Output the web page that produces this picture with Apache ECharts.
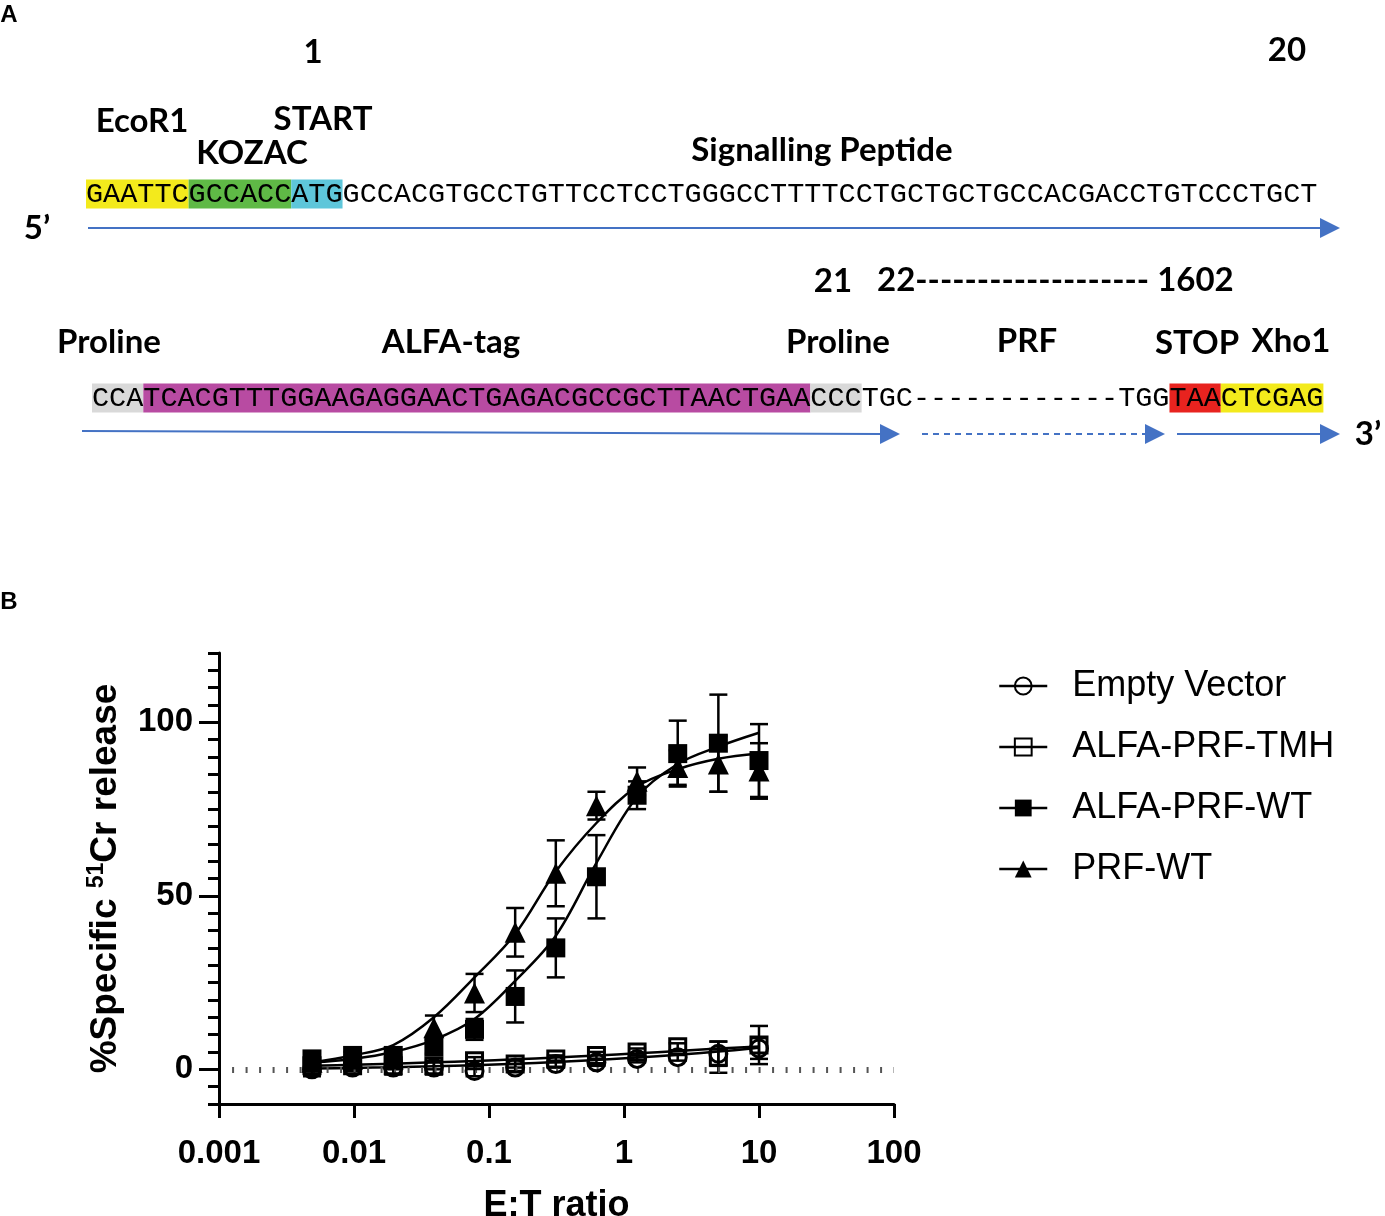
<!DOCTYPE html>
<html lang="en">
<head>
<meta charset="UTF-8" />
<title>ALFA-PRF construct and 51Cr release</title>
<script src="https://cdn.jsdelivr.net/npm/echarts@6/dist/echarts.min.js"></script>
<style>
  html, body { margin: 0; padding: 0; background: #fff; }
  #chart { width: 1385px; height: 1216px; }
</style>
</head>
<body>
<div id="chart"></div>
<script>
  // E:T ratios, 2-fold dilutions down from 10:1
  const ratios = [0.0048828, 0.0097656, 0.0195313, 0.0390625, 0.078125, 0.15625, 0.3125, 0.625, 1.25, 2.5, 5, 10];

  const seriesNames = ['Empty Vector', 'ALFA-PRF-TMH', 'ALFA-PRF-WT', 'PRF-WT'];

  // mean % specific release, SD, and the fitted curve
  const emptyMean = [0, 0.5, 0.5, 0.5, -0.5, 0.5, 1.5, 2, 3, 3.5, 4.5, 6];
  const emptySd   = [2, 1, 2, 2, 1.5, 1, 1, 1, 1, 1, 3.5, 3];
  const emptyFit  = [0.2, 0.4, 0.6, 0.9, 1.2, 1.6, 2.1, 2.7, 3.4, 4.2, 5.1, 6.2];

  const tmhMean = [1, 1, 1, 1, 2.5, 1.5, 3, 4, 5, 6.5, 3.5, 7];
  const tmhSd   = [1, 1, 1, 1, 1, 1, 1, 1, 1, 1, 4.5, 5.5];
  const tmhFit  = [1, 1.3, 1.6, 2, 2.4, 2.9, 3.4, 4, 4.6, 5.3, 6, 6.6];

  const alfaWtMean = [3, 4, 4, 6.5, 11.5, 21, 35, 55.5, 79, 91, 94, 89];
  const alfaWtSd   = [1.5, 1, 1.5, 2, 3, 7.5, 8.5, 12, 4, 9.5, 14, 10.5];
  const alfaWtFit  = [2, 3, 5, 8.5, 14.5, 25.5, 38.5, 59.5, 78.5, 88, 93, 97];

  const prfWtMean = [2, 3, 3, 12, 22, 39.5, 56.5, 76, 83, 87, 88, 86];
  const prfWtSd   = [1, 1, 1, 3.5, 5.5, 7, 9.5, 4, 4, 5, 8, 8];
  const prfWtFit  = [2, 4, 7, 15, 26.5, 39, 57, 71, 81.5, 86.5, 89.5, 91];

  const yMajorTicks = [0, 50, 100];

  // construct map text
  const seq1 = ['GAATTC', 'GCCACC', 'ATG', 'GCCACGTGCCTGTTCCTCCTGGGCCTTTTCCTGCTGCTGCCACGACCTGTCCCTGCT'];
  const seq2 = ['CCA', 'TCACGTTTGGAAGAGGAACTGAGACGCCGCTTAACTGAA', 'CCC', 'TGC------------TGG', 'TAA', 'CTCGAG'];

  const chart = echarts.init(document.getElementById('chart'));

  const blue = '#4472c4';
  const labelFont = 'Lato';
  const seqStyle = { fontFamily: 'Liberation Mono', fontSize: 28.5, lineHeight: 35, color: '#1a1a1a' };
  const seqRich = {
    y: Object.assign({ backgroundColor: '#f3ea1c' }, seqStyle),
    g: Object.assign({ backgroundColor: '#5fb946' }, seqStyle),
    c: Object.assign({ backgroundColor: '#5ec6da' }, seqStyle),
    gr: Object.assign({ backgroundColor: '#d9d9d9' }, seqStyle),
    m: Object.assign({ backgroundColor: '#b84ba2' }, seqStyle),
    r: Object.assign({ backgroundColor: '#e8231f' }, seqStyle),
    p: Object.assign({}, seqStyle)
  };

  function label(text, x, y, opts) {
    opts = opts || {};
    return {
      type: 'text', x: x, y: y, scaleX: opts.sx || 1,
      style: {
        text: text, font: 'bold ' + (opts.size || 33) + 'px ' + (opts.family || labelFont),
        fill: '#000', align: opts.align || 'center', verticalAlign: 'middle',
        textAlign: opts.align || 'center', textVerticalAlign: 'middle'
      }
    };
  }

  function arrow(x1, y1, x2, y2, dashed) {
    return [
      { type: 'line', shape: { x1: x1, y1: y1, x2: x2, y2: y2 },
        style: { stroke: blue, lineWidth: 2, lineDash: dashed ? [6, 5] : null } },
      { type: 'polygon', shape: { points: [[x2, y2 - 10], [x2 + 20, y2], [x2, y2 + 10]] },
        style: { fill: blue } }
    ];
  }

  const graphics = [
    label('A', 9, 15, { family: 'Liberation Sans', size: 24 }),
    label('1', 313, 52),
    label('20', 1287, 50),
    label('EcoR1', 142, 121),
    label('START', 323, 119),
    label('KOZAC', 252, 153),
    label('Signalling Peptide', 822, 150),
    {
      type: 'text', x: 86, y: 194,
      style: {
        text: '{y|' + seq1[0] + '}{g|' + seq1[1] + '}{c|' + seq1[2] + '}{p|' + seq1[3] + '}',
        rich: seqRich, align: 'left', verticalAlign: 'middle', textAlign: 'left', textVerticalAlign: 'middle'
      }
    },
    label('5\u2019', 37, 228),
    ...arrow(88, 228, 1320, 228),

    label('21', 833, 281),
    label('22------------------- 1602', 877, 280, { align: 'left' }),
    label('Proline', 109, 342),
    label('ALFA-tag', 451, 342),
    label('Proline', 838, 342),
    label('PRF', 1027, 341),
    label('STOP', 1197, 343),
    label('Xho1', 1291, 341),
    {
      type: 'text', x: 92, y: 398,
      style: {
        text: '{gr|' + seq2[0] + '}{m|' + seq2[1] + '}{gr|' + seq2[2] + '}{p|' + seq2[3] + '}{r|' + seq2[4] + '}{y|' + seq2[5] + '}',
        rich: seqRich, align: 'left', verticalAlign: 'middle', textAlign: 'left', textVerticalAlign: 'middle'
      }
    },
    ...arrow(82, 431, 880, 434),
    ...arrow(922, 434, 1145, 434, true),
    ...arrow(1177, 434, 1320, 434),
    label('3\u2019', 1368, 434),

    label('B', 9, 602, { family: 'Liberation Sans', size: 24 })
  ];

  function pairs(values) {
    return ratios.map((r, i) => [r, values[i]]);
  }

  function errorSeries(means, sds) {
    return {
      type: 'custom', z: 3, silent: true,
      data: ratios.map((r, i) => [r, means[i] - sds[i], means[i] + sds[i]]),
      encode: { x: 0, y: [1, 2] },
      renderItem: function (params, api) {
        const lo = api.coord([api.value(0), api.value(1)]);
        const hi = api.coord([api.value(0), api.value(2)]);
        const w = 9;
        const style = { stroke: '#000', lineWidth: 2.5 };
        return {
          type: 'group',
          children: [
            { type: 'line', shape: { x1: lo[0], y1: lo[1], x2: hi[0], y2: hi[1] }, style: style },
            { type: 'line', shape: { x1: lo[0] - w, y1: lo[1], x2: lo[0] + w, y2: lo[1] }, style: style },
            { type: 'line', shape: { x1: hi[0] - w, y1: hi[1], x2: hi[0] + w, y2: hi[1] }, style: style }
          ]
        };
      }
    };
  }

  function fitSeries(values) {
    return {
      type: 'line', z: 4, silent: true, data: pairs(values),
      smooth: 0.35, symbol: 'none',
      lineStyle: { color: '#000', width: 2.5 }
    };
  }

  function pointSeries(name, means, symbol, size, filled) {
    return {
      name: name, type: 'line', z: 5, data: pairs(means),
      symbol: symbol, symbolSize: size,
      lineStyle: { color: '#000', opacity: 0 },
      itemStyle: filled
        ? { color: '#000', borderColor: '#000', borderWidth: 0 }
        : { color: 'rgba(255,255,255,0)', borderColor: '#000', borderWidth: 3 }
    };
  }

  const axisFont = { fontFamily: 'Liberation Sans', fontWeight: 'bold', color: '#000' };

  const option = {
    backgroundColor: '#fff',
    animation: false,
    graphic: graphics,
    grid: { left: 219, right: 491, top: 653, bottom: 112, containLabel: false, outerBoundsMode: 'none' },
    legend: {
      orient: 'vertical', left: 998, top: 668, padding: 0,
      itemWidth: 48, itemHeight: 21, itemGap: 25,
      data: seriesNames,
      textStyle: { fontFamily: 'Liberation Sans', fontSize: 36, color: '#000', padding: [0, 0, 0, 20] },
      lineStyle: { color: '#000', width: 2.5, opacity: 1 }
    },
    xAxis: {
      type: 'log', logBase: 10, min: 0.001, max: 100,
      axisLine: { onZero: false, lineStyle: { color: '#000', width: 3 } },
      axisTick: { length: 14, lineStyle: { color: '#000', width: 3 } },
      splitLine: { show: false },
      axisLabel: Object.assign({ fontSize: 33, margin: 33, formatter: v => String(parseFloat(v.toPrecision(3))) }, axisFont),
      name: 'E:T ratio', nameLocation: 'middle', nameGap: 84,
      nameTextStyle: Object.assign({ fontSize: 36 }, axisFont)
    },
    yAxis: [
      {
        type: 'value', position: 'left', min: -10, max: 120, interval: 5,
        axisLine: { show: true, onZero: false, lineStyle: { color: '#000', width: 3 } },
        axisTick: { length: 11, lineStyle: { color: '#000', width: 3 } },
        axisLabel: { show: false },
        splitLine: { show: false },
        name: '{a|%Specific }{s|51}{a|Cr release}',
        nameLocation: 'middle', nameRotate: 90, nameGap: 92,
        nameTextStyle: {
          rich: {
            a: Object.assign({ fontSize: 37, lineHeight: 42 }, axisFont),
            s: Object.assign({ fontSize: 23, lineHeight: 23, verticalAlign: 'top' }, axisFont)
          }
        }
      },
      {
        type: 'value', position: 'left', offset: 0, min: -10, max: 120, interval: 5,
        axisLine: { show: false, onZero: false },
        axisTick: { length: 20, customValues: yMajorTicks, lineStyle: { color: '#000', width: 3 } },
        axisLabel: Object.assign({ fontSize: 33, margin: 26, customValues: yMajorTicks }, axisFont),
        splitLine: { show: false }
      }
    ],
    series: [
      errorSeries(emptyMean, emptySd),
      errorSeries(tmhMean, tmhSd),
      errorSeries(alfaWtMean, alfaWtSd),
      errorSeries(prfWtMean, prfWtSd),
      fitSeries(emptyFit),
      fitSeries(tmhFit),
      fitSeries(alfaWtFit),
      fitSeries(prfWtFit),
      pointSeries('Empty Vector', emptyMean, 'circle', 17, false),
      pointSeries('ALFA-PRF-TMH', tmhMean, 'rect', 16, false),
      pointSeries('ALFA-PRF-WT', alfaWtMean, 'rect', 19, true),
      pointSeries('PRF-WT', prfWtMean, 'triangle', 21, true),
      {
        type: 'line', silent: true, data: [],
        markLine: {
          silent: true, symbol: 'none', label: { show: false },
          lineStyle: { color: '#555', width: 6, type: [2, 11.5] },
          data: [[{ coord: [0.00125, 0] }, { coord: [100, 0] }]]
        }
      }
    ]
  };

  chart.setOption(option);
</script>
</body>
</html>
